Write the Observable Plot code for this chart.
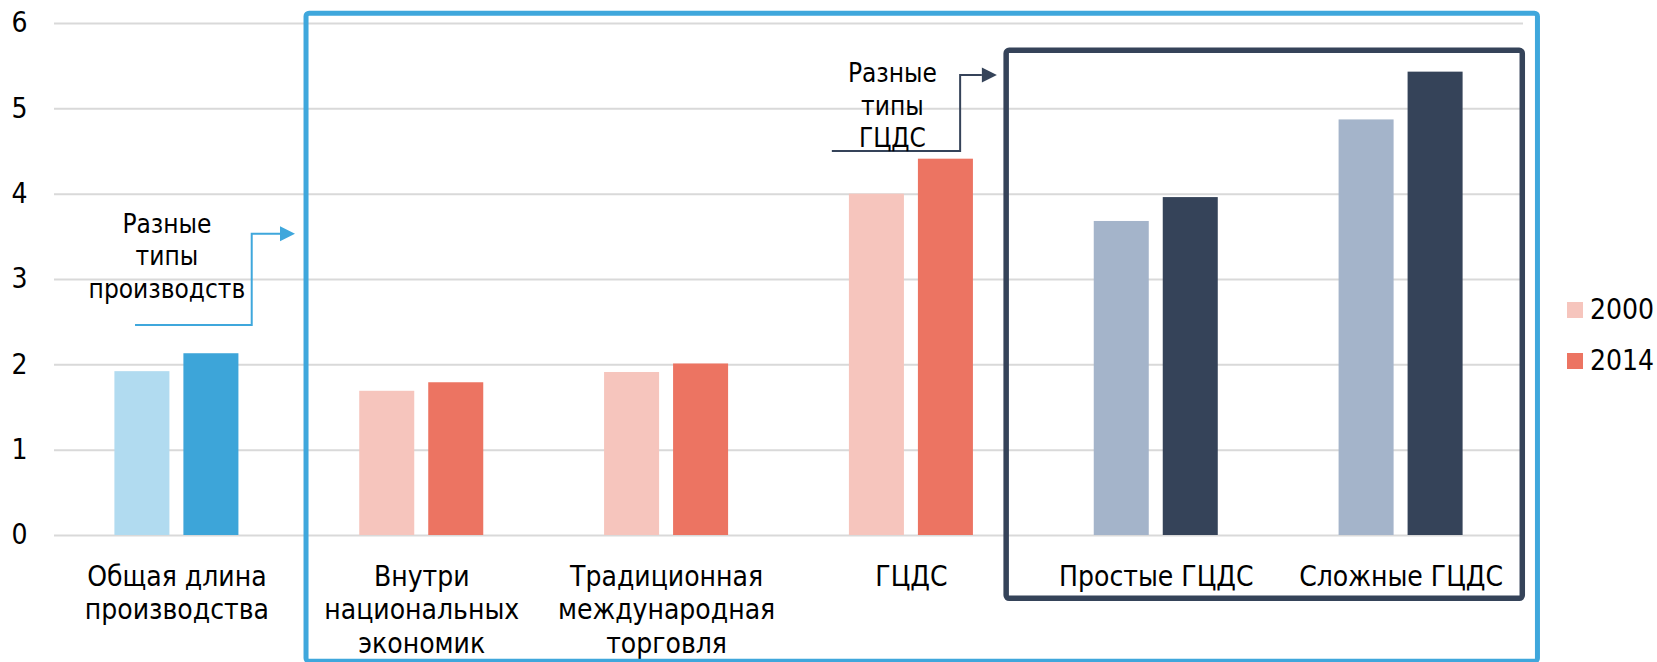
<!DOCTYPE html>
<html>
<head>
<meta charset="utf-8">
<script src="https://cdn.jsdelivr.net/npm/d3@7"></script>
<script src="https://cdn.jsdelivr.net/npm/@observablehq/plot@0.6"></script>
<style>
  html, body { margin: 0; padding: 0; background: #ffffff; }
  #wrap { position: relative; width: 1657px; height: 662px; overflow: hidden; }
  #legend { position: absolute; left: 0; top: 0; pointer-events: none; }
</style>
</head>
<body>
<div id="wrap"></div>
<script>
// ---------- data ----------
const categories = [
  "Общая длина\nпроизводства",
  "Внутри\nнациональных\nэкономик",
  "Традиционная\nмеждународная\nторговля",
  "ГЦДС",
  "Простые ГЦДС",
  "Сложные ГЦДС"
];
const years = ["2000", "2014"];
const values2000 = [1.92, 1.69, 1.91, 4.00, 3.68, 4.87];
const values2014 = [2.13, 1.79, 2.01, 4.41, 3.96, 5.43];
const yTicks = [0, 1, 2, 3, 4, 5, 6];
const annotationTexts = ["Разные\nтипы\nпроизводств", "Разные\nтипы\nГЦДС"];

// ---------- styling ----------
const FONT = "'DejaVu Sans Condensed', 'DejaVu Sans', sans-serif";
const palette = {
  blue:   {"2000": "#b1dbf0", "2014": "#3da5d9"},
  salmon: {"2000": "#f6c5bd", "2014": "#ec7462"},
  navy:   {"2000": "#a4b4ca", "2014": "#354359"}
};
const categoryGroup = ["blue", "salmon", "salmon", "salmon", "navy", "navy"];
const frameBlue = "#3fa7dc";
const frameNavy = "#354359";

const rows = (vals, year) => vals.map((v, i) => ({
  category: categories[i], year, value: v,
  color: palette[categoryGroup[i]][year]
}));
const data2000 = rows(values2000, "2000");
const data2014 = rows(values2014, "2014");

// annotation geometry (in data space: category + fraction of band step, y value)
const annotations = [
  {category: categories[0], y: 3.82, dx: -10, text: annotationTexts[0]},
  {category: categories[3], y: 5.58, dx: -19, text: annotationTexts[1]}
];
const arrows = [
  {category: categories[0], y0: 2.46, y1: 3.53, f0: -0.169, f1: 0.3076, f2: 0.4845, color: frameBlue},
  {category: categories[3], y0: 4.50, y1: 5.39, f0: -0.323, f1: 0.201, f2: 0.351, color: frameNavy}
];
const frames = [
  {from: categories[1], fromOff: -0.4706, to: categories[5], toOff: 0.559, top: 6.115, bottom: -1.48, color: frameBlue, width: 5},
  {from: categories[4], fromOff: -0.611, to: categories[5], toOff: 0.497, top: 5.68, bottom: -0.742, color: frameNavy, width: 5.5}
];

function overlay(index, scales) {
  const {x, y} = scales;
  const bw = x.bandwidth();
  const step = x.step();
  const cx = (cat, f) => x(cat) + bw / 2 + f * step;
  const g = d3.create("svg:g");
  for (const fr of frames) {
    const x1 = cx(fr.from, fr.fromOff), x2 = cx(fr.to, fr.toOff);
    const y1 = y(fr.top), y2 = y(fr.bottom);
    g.append("rect")
      .attr("x", x1).attr("y", y1)
      .attr("width", x2 - x1).attr("height", y2 - y1)
      .attr("rx", 3).attr("ry", 3)
      .attr("fill", "none")
      .attr("stroke", fr.color)
      .attr("stroke-width", fr.width);
  }
  for (const a of arrows) {
    const xa = cx(a.category, a.f0), xb = cx(a.category, a.f1), xt = cx(a.category, a.f2);
    const ya = y(a.y0), yb = y(a.y1);
    const head = 15, half = 7.5;
    g.append("path")
      .attr("d", `M${xa},${ya}H${xb}V${yb}H${xt - head}`)
      .attr("fill", "none")
      .attr("stroke", a.color)
      .attr("stroke-width", 2);
    g.append("path")
      .attr("d", `M${xt - head},${yb - half}L${xt},${yb}L${xt - head},${yb + half}Z`)
      .attr("fill", a.color);
  }
  return g.node();
}

const chart = Plot.plot({
  width: 1657,
  height: 662,
  marginLeft: 54,
  marginRight: 134,
  marginTop: 23,
  marginBottom: 127,
  style: {fontFamily: FONT, background: "#ffffff", color: "#000000", overflow: "visible"},
  x: {domain: categories, paddingInner: 0.7753, paddingOuter: 0.3876, round: false, axis: null, label: null},
  y: {domain: [0, 6], axis: null, label: null},
  color: {type: "identity"},
  marks: [
    Plot.gridY(yTicks, {stroke: "#d9d9d9", strokeOpacity: 1, strokeWidth: 2}),
    Plot.axisY(yTicks, {anchor: "left", label: null, tickSize: 0, tickPadding: 27, fontSize: 28, tickFormat: d => String(d)}),
    Plot.axisX(categories, {anchor: "bottom", label: null, tickSize: 0, tickPadding: 26, fontSize: 28, lineHeight: 1.21, tickFormat: d => d}),
    Plot.barY(data2000, {x: "category", y: "value", fill: "color", dx: -34.5}),
    Plot.barY(data2014, {x: "category", y: "value", fill: "color", dx: 34.5}),
    overlay,
    Plot.text([annotations[0]], {x: "category", y: "y", text: "text", dx: annotations[0].dx, fontSize: 26, lineHeight: 1.25, lineAnchor: "top", fill: "#000000"}),
    Plot.text([annotations[1]], {x: "category", y: "y", text: "text", dx: annotations[1].dx, fontSize: 26, lineHeight: 1.25, lineAnchor: "top", fill: "#000000"})
  ]
});

const wrap = document.getElementById("wrap");
wrap.appendChild(chart);

// ---------- legend ----------
const legendColors = {"2000": palette.salmon["2000"], "2014": palette.salmon["2014"]};
const legend = d3.select(wrap).append("svg")
  .attr("id", "legend")
  .attr("width", 1657).attr("height", 662)
  .style("font-family", FONT);
years.forEach((yr, i) => {
  const top = 302 + i * 51;
  legend.append("rect").attr("x", 1567).attr("y", top).attr("width", 16).attr("height", 16).attr("fill", legendColors[yr]);
  legend.append("text").attr("x", 1590).attr("y", top + 17).attr("font-size", 28).attr("fill", "#000").text(yr);
});
</script>
</body>
</html>
